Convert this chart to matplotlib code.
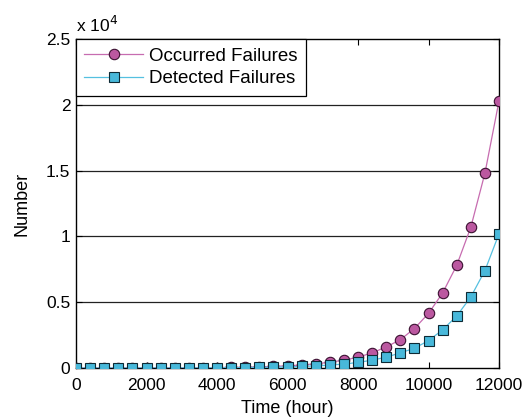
import matplotlib
matplotlib.use("Agg")
import matplotlib.pyplot as plt
from matplotlib.ticker import FuncFormatter

plt.rcParams['font.family'] = ['Liberation Sans', 'DejaVu Sans']

hours = list(range(0, 12001, 400))
occurred = [0, 2, 3, 4, 5, 7, 10, 13, 18, 25, 35, 48, 65, 90, 120, 170,
            230, 320, 440, 600, 820, 1150, 1600, 2150, 3000, 4150, 5700,
            7800, 10700, 14800, 20300]
detected = [0, 1, 1, 2, 2, 3, 5, 6, 9, 12, 17, 24, 32, 45, 60, 85,
            115, 160, 220, 300, 420, 600, 820, 1150, 1500, 2080, 2900,
            3950, 5400, 7400, 10200]
yticks = [0, 5000, 10000, 15000, 20000, 25000]
xticks = [0, 2000, 4000, 6000, 8000, 10000, 12000]

fig = plt.figure(figsize=(5.32, 4.17), dpi=100)
ax = fig.add_axes([0.1429, 0.1175, 0.938 - 0.1429, 0.9065 - 0.1175])

ax.plot(hours, occurred, color='#c76cb0', lw=0.9, marker='o', ms=7.5,
        mfc='#bb58a0', mec='#3a1030', mew=0.8, label='Occurred Failures', zorder=3)
ax.plot(hours, detected, color='#55c0e0', lw=0.9, marker='s', ms=7,
        mfc='#48b8da', mec='#0e2a35', mew=0.8, label='Detected Failures', zorder=4)

ax.set_xlim(0, 12000)
ax.set_ylim(0, 25000)
ax.set_xticks(xticks)
ax.set_yticks(yticks)
ax.yaxis.set_major_formatter(FuncFormatter(lambda v, p: f"{v/1e4:g}"))
for y in yticks[1:-1]:
    ax.axhline(y, color='#222222', lw=0.9, zorder=1)
ax.tick_params(direction='in', top=True, right=True, labelsize=12.5, length=4)
ax.tick_params(axis='x', pad=7)
ax.tick_params(axis='y', pad=4)
for s in ax.spines.values():
    s.set_linewidth(1.0)
ax.set_xlabel('Time (hour)', fontsize=13, labelpad=5)
ax.set_ylabel('Number', fontsize=13, labelpad=11)
ax.text(0.0, 1.012, r'x 10$^{4}$', transform=ax.transAxes, fontsize=12.5,
        ha='left', va='bottom')

leg = ax.legend(loc='upper left', fontsize=13.5, fancybox=False, framealpha=1,
                edgecolor='black', borderaxespad=0, handlelength=3.1,
                borderpad=0.45, labelspacing=0.3, handletextpad=0.35)
leg.get_frame().set_linewidth(0.9)

fig.savefig('out.png', dpi=100)
